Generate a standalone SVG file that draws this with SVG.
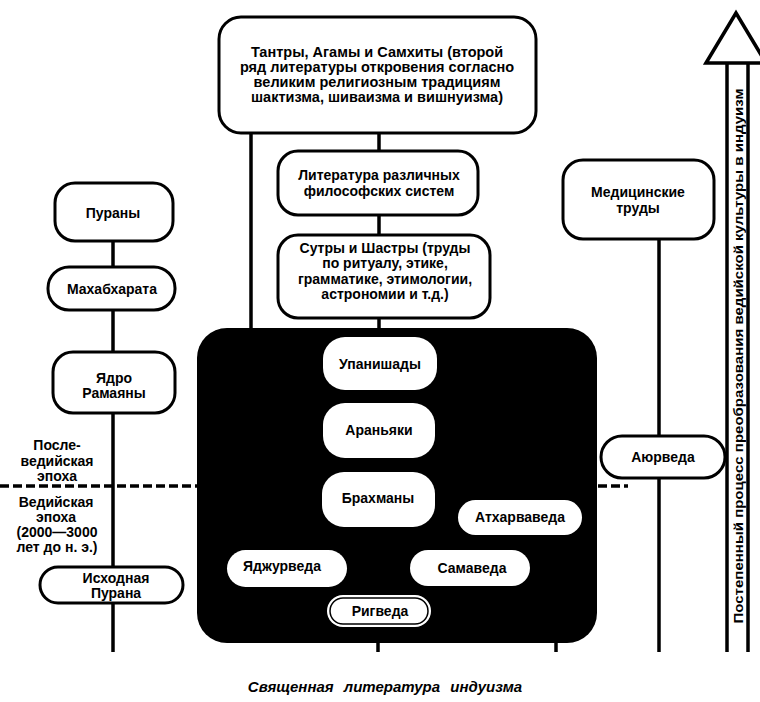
<svg xmlns="http://www.w3.org/2000/svg" width="760" height="702" viewBox="0 0 760 702">
<defs>
<style>
.box{fill:#fff;stroke:#000;stroke-width:3}
.wbox{fill:#fff;stroke:none}
.ln{stroke:#000;stroke-width:3.5;fill:none}
.t{font-family:"Liberation Sans",Arial,sans-serif;font-weight:bold;font-size:14px;fill:#000;text-anchor:middle}
.dash{stroke:#000;stroke-width:3.5;stroke-dasharray:9 4;fill:none}
</style>
</defs>
<rect width="760" height="702" fill="#fff"/>
<g id="connectors">
<line class="ln" x1="251" y1="132" x2="251" y2="332"/>
<line class="ln" x1="379" y1="132" x2="379" y2="152"/>
<line class="ln" x1="379" y1="216" x2="379" y2="236"/>
<line class="ln" x1="379" y1="318" x2="379" y2="332"/>
<line class="ln" x1="113" y1="240" x2="113" y2="652"/>
<line class="ln" x1="659" y1="238" x2="659" y2="652"/>
<line class="ln" x1="378" y1="640" x2="378" y2="652"/>
<line class="ln" x1="556" y1="640" x2="556" y2="652"/>
<line class="dash" x1="0" y1="486" x2="198" y2="486"/>
<line class="dash" x1="598" y1="486" x2="628" y2="486"/>
</g>
<g id="vedic-block">
<rect x="197" y="328" width="400" height="315" rx="30" fill="#000"/>
</g>
<g id="tantras">
<rect class="box" x="219" y="17" width="317" height="116" rx="22"/>
<text class="t" x="377" y="57" style="font-size:14.5px">Тантры, Агамы и Самхиты (второй</text>
<text class="t" x="377" y="72" style="font-size:14.5px">ряд литературы откровения согласно</text>
<text class="t" x="377" y="87" style="font-size:14.5px">великим религиозным традициям</text>
<text class="t" x="377" y="102" style="font-size:14.5px">шактизма, шиваизма и вишнуизма)</text>
</g>
<g id="philosophy">
<rect class="box" x="278" y="151" width="200" height="64" rx="20"/>
<text class="t" x="379" y="180">Литература различных</text>
<text class="t" x="379" y="196">философских систем</text>
</g>
<g id="sutras">
<rect class="box" x="278" y="235" width="212" height="83" rx="20"/>
<text class="t" x="385" y="253">Сутры и Шастры (труды</text>
<text class="t" x="385" y="268">по ритуалу, этике,</text>
<text class="t" x="385" y="284">грамматике, этимологии,</text>
<text class="t" x="385" y="299">астрономии и т.д.)</text>
</g>
<g id="puranas">
<rect class="box" x="55" y="183" width="118" height="58" rx="20"/>
<text class="t" x="113" y="218">Пураны</text>
</g>
<g id="mahabharata">
<rect class="box" x="48" y="267" width="127" height="43" rx="21"/>
<text class="t" x="112" y="294">Махабхарата</text>
</g>
<g id="ramayana">
<rect class="box" x="53" y="352" width="122" height="61" rx="20"/>
<text class="t" x="114" y="383">Ядро</text>
<text class="t" x="114" y="398">Рамаяны</text>
</g>
<g id="era-labels">
<text class="t" x="57" y="450">После-</text>
<text class="t" x="57" y="466">ведийская</text>
<text class="t" x="57" y="481">эпоха</text>
<text class="t" x="56" y="507">Ведийская</text>
<text class="t" x="56" y="522">эпоха</text>
<text class="t" x="57" y="537">(2000—3000</text>
<text class="t" x="57" y="552">лет до н. э.)</text>
</g>
<g id="original-purana">
<rect class="box" x="40" y="567" width="143" height="36" rx="18"/>
<text class="t" x="116" y="583">Исходная</text>
<text class="t" x="116" y="598">Пурана</text>
</g>
<g id="medical">
<rect class="box" x="563" y="160" width="151" height="79" rx="20"/>
<text class="t" x="638" y="197">Медицинские</text>
<text class="t" x="638" y="213">труды</text>
</g>
<g id="ayurveda">
<rect class="box" x="601" y="436" width="124" height="42" rx="21"/>
<text class="t" x="663" y="462">Аюрведа</text>
</g>
<g id="upanishads">
<rect class="wbox" x="323" y="337" width="114" height="53" rx="22"/>
<text class="t" x="380" y="369">Упанишады</text>
</g>
<g id="aranyakas">
<rect class="wbox" x="323" y="403" width="112" height="55" rx="22"/>
<text class="t" x="379" y="435">Араньяки</text>
</g>
<g id="brahmanas">
<rect class="wbox" x="322" y="472" width="113" height="55" rx="22"/>
<text class="t" x="378" y="503">Брахманы</text>
</g>
<g id="atharvaveda">
<rect class="wbox" x="458" y="500" width="124" height="35" rx="17.5"/>
<text class="t" x="520" y="522">Атхарваведа</text>
</g>
<g id="yajurveda">
<rect class="wbox" x="227" y="550" width="120" height="37" rx="18.5"/>
<text class="t" x="282" y="571">Яджурведа</text>
</g>
<g id="samaveda">
<rect class="wbox" x="410" y="550" width="120" height="36" rx="18"/>
<text class="t" x="472" y="573">Самаведа</text>
</g>
<g id="rigveda">
<rect class="wbox" x="327" y="595" width="104" height="32" rx="16"/>
<rect x="330" y="598" width="98" height="26" rx="13" fill="#fff" stroke="#000" stroke-width="1.5"/>
<text class="t" x="380" y="616">Ригведа</text>
</g>
<g id="process-arrow">
<polygon points="706,63 736,13 766,63" fill="#fff" stroke="#000" stroke-width="3.5" stroke-linejoin="miter"/>
<line class="ln" x1="727" y1="63" x2="727" y2="652"/>
<line class="ln" x1="748" y1="63" x2="748" y2="652"/>
<text class="t" transform="translate(742.5,356) rotate(-90)" textLength="535" lengthAdjust="spacingAndGlyphs" style="font-size:13.5px">Постепенный процесс преобразования ведийской культуры в индуизм</text>
</g>
<g id="caption">
<text x="385" y="692" style="font-family:'Liberation Sans',Arial,sans-serif;font-weight:bold;font-style:italic;font-size:15px;text-anchor:middle;word-spacing:6px">Священная литература индуизма</text>
</g>
</svg>
